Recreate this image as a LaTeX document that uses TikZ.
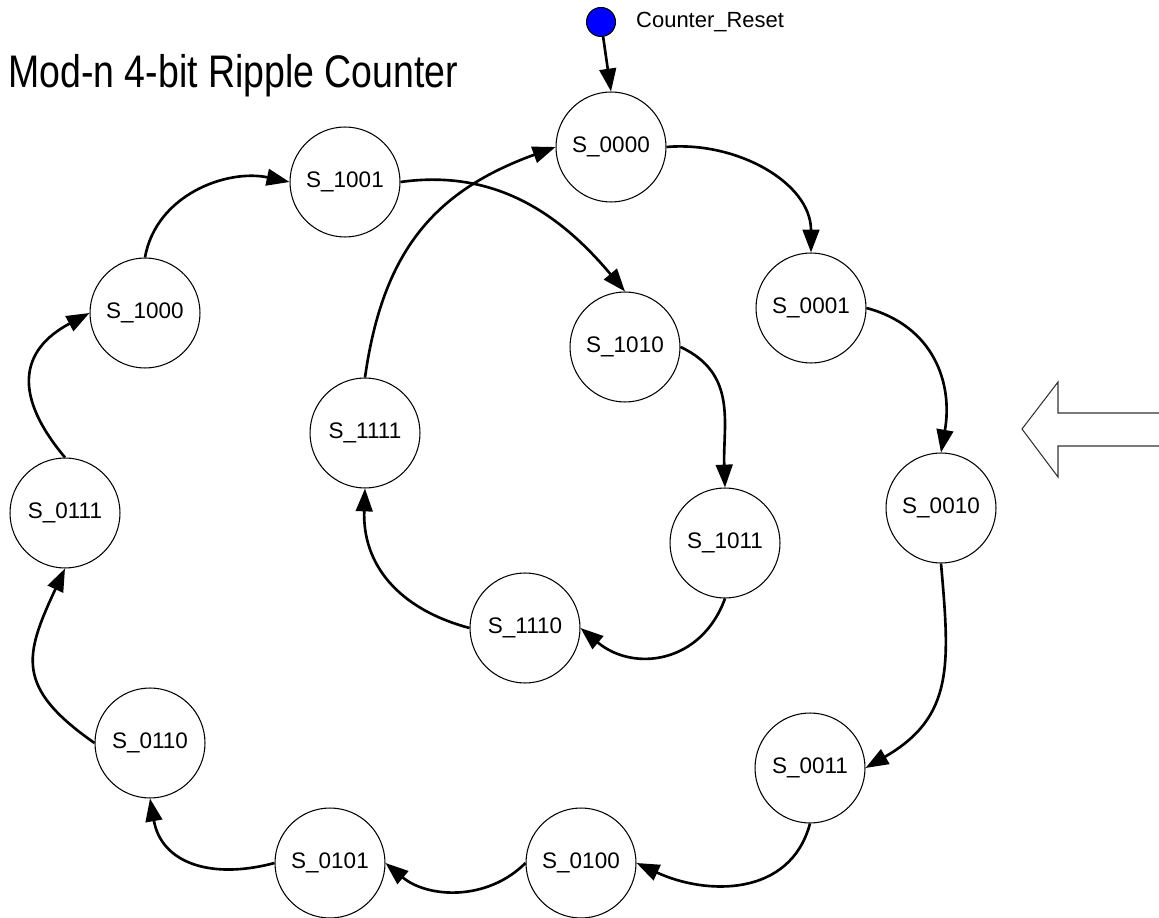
\documentclass[tikz,border=0pt]{standalone}
\usepackage{fontspec}
\setmainfont{Liberation Sans}
\usetikzlibrary{arrows.meta,positioning}
\tikzset{
  state/.style={circle,draw,line width=0.6pt,minimum size=2.2cm,inner sep=0pt,font=\fontsize{12.8}{15}\selectfont},
  trans/.style={-{Triangle[length=13pt,width=9.5pt]},line width=1.5pt},
}
\begin{document}
\begin{tikzpicture}[x=0.02cm,y=-0.02cm]
\useasboundingbox (0,0) rectangle (1159,918);
\node[anchor=base west,inner sep=0pt] (title) at (8,88) {\scalebox{0.82}[1]{\fontsize{26}{30}\selectfont Mod-n 4-bit Ripple Counter}};
\foreach \name/\x/\y in {0000/611/147,0001/811/308,0010/941/508,0011/810/768,
  0100/581/863,0101/330/863,0110/150/743,0111/65/513,1000/145/313,
  1001/345/182,1010/625/347,1011/725/543,1110/525/628,1111/365/433}
\node[state] (s\name) at (\x,\y) {S\_\name};
\node[circle,draw,fill=blue,line width=0.6pt,minimum size=0.58cm,inner sep=0pt] (reset) at (601,22) {};
\node[right=0.28cm of reset,font=\fontsize{12.5}{15}\selectfont] (resetlabel) {Counter\_Reset};
\draw[trans] (reset) -- (s0000.north);
\draw[trans] (s0000.east) to[out=5,in=90] (s0001.north);
\draw[trans] (s0001.east) to[out=-15,in=80,looseness=1.1] (s0010.north);
\draw[trans] (s0010.south) to[out=-85,in=30,looseness=1.2] (s0011.east);
\draw[trans] (s0011.south) to[out=-105,in=-25,looseness=1.1] (s0100.east);
\draw[trans] (s0100.west) to[out=-135,in=-40] (s0101.east);
\draw[trans] (s0101.west) to[out=195,in=-80,looseness=1.2] (s0110.south);
\draw[trans] (s0110.west) to[out=145,in=-115,looseness=1.4] (s0111.south);
\draw[trans] (s0111.north) to[out=130,in=208,looseness=1.4] (s1000.west);
\draw[trans] (s1000.north) to[out=80,in=168] (s1001.west);
\draw[trans] (s1001.east) to[out=8,in=130] (s1010.north);
\draw[trans] (s1010.east) to[out=-25,in=92,looseness=1.1] (s1011.north);
\draw[trans] (s1011.south) to[out=-110,in=-40,looseness=1.2] (s1110.east);
\draw[trans] (s1110.west) to[out=165,in=-92,looseness=1.1] (s1111.south);
\draw[trans] (s1111.north) to[out=82,in=200,looseness=1.1] (s0000.west);
\draw[line width=0.6pt,black!80] (1159,413) -- (1058,413) -- (1058,382) -- (1022,429)
  -- (1058,477) -- (1058,446) -- (1159,446);
\end{tikzpicture}
\end{document}
